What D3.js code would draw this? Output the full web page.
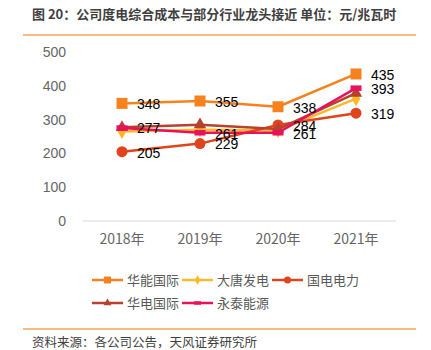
<!DOCTYPE html>
<html><head><meta charset="utf-8">
<script src="https://cdn.jsdelivr.net/npm/d3@7"></script>
<style>
body{margin:0;background:#fff;}
svg{display:block;font-family:"Liberation Sans","Noto Sans CJK SC",Arial,sans-serif;}
</style></head>
<body><svg id="c" width="431" height="350"></svg>
<script>
const categories = ["2018年","2019年","2020年","2021年"];
const seriesNames = ["华能国际","大唐发电","国电电力","华电国际","永泰能源"];
const huaneng = [348,355,338,435];
const datang = [265,270,268,362];
const guodian = [205,229,284,319];
const huadian = [277,285,272,378];
const yongtai = [275,261,261,393];
// which points carry a value label
const huanengLabels = [true,true,true,true];
const datangLabels = [false,false,false,false];
const guodianLabels = [true,true,true,true];
const huadianLabels = [true,false,false,false];
const yongtaiLabels = [false,true,true,true];
const yTicks = [0,100,200,300,400,500];
const title = "图 20：公司度电综合成本与部分行业龙头接近  单位：元/兆瓦时";
const source = "资料来源：各公司公告，天风证券研究所";

const series = [
  {name:seriesNames[0], values:huaneng, labels:huanengLabels, color:"#F5821F", shape:"square"},
  {name:seriesNames[1], values:datang, labels:datangLabels, color:"#FBB92A", shape:"diamond"},
  {name:seriesNames[2], values:guodian, labels:guodianLabels, color:"#E0441C", shape:"circle"},
  {name:seriesNames[3], values:huadian, labels:huadianLabels, color:"#B5422F", shape:"triangle"},
  {name:seriesNames[4], values:yongtai, labels:yongtaiLabels, color:"#E8115B", shape:"dash"}
];

const svg = d3.select("#c");
const cjk = '"Noto Sans CJK SC","Liberation Sans",sans-serif';

// title & rules
svg.append("text").attr("x",32).attr("y",19).attr("font-family",cjk)
  .attr("font-size",13).attr("font-weight","bold").attr("fill","#3f3f3f").text(title);
svg.append("line").attr("x1",23).attr("x2",416).attr("y1",35).attr("y2",35)
  .attr("stroke","#F3A35A").attr("stroke-width",1.5);
svg.append("line").attr("x1",23).attr("x2",416).attr("y1",329).attr("y2",329)
  .attr("stroke","#F3A35A").attr("stroke-width",1.5);
svg.append("text").attr("x",32).attr("y",347).attr("font-family",cjk)
  .attr("font-size",12.5).attr("fill","#404040").text(source);

const x = d3.scaleBand().domain(categories).range([83,395]);
const y = d3.scaleLinear().domain([0,500]).range([221,52]);

// baseline
svg.append("line").attr("x1",83).attr("x2",396).attr("y1",y(0)).attr("y2",y(0))
  .attr("stroke","#d9d9d9").attr("stroke-width",1);

// y axis labels
const yAxis = svg.append("g").attr("transform","translate(66,0)")
  .call(d3.axisLeft(y).tickValues(yTicks).tickSize(0).tickPadding(0));
yAxis.select(".domain").remove();
yAxis.selectAll("text").attr("font-size",14).attr("fill","#666")
  .attr("font-family",'"Liberation Sans",Arial,sans-serif');

// x axis labels
const xAxis = svg.append("g").attr("transform",`translate(0,${y(0)+13})`)
  .call(d3.axisBottom(x).tickSize(0).tickPadding(0));
xAxis.select(".domain").remove();
xAxis.selectAll("text").attr("font-size",14).attr("fill","#666").attr("font-family",cjk);

const cx = c => x(c) + x.bandwidth()/2;

function marker(g, shape, color, size){
  if(shape==="square"){
    g.append("rect").attr("x",-size/2).attr("y",-size/2).attr("width",size).attr("height",size).attr("fill",color);
  } else if(shape==="circle"){
    g.append("circle").attr("r",size/2).attr("fill",color);
  } else if(shape==="diamond"){
    g.append("path").attr("d",d3.symbol(d3.symbolDiamond, size*size*0.55)()).attr("fill",color);
  } else if(shape==="triangle"){
    g.append("path").attr("d",d3.symbol(d3.symbolTriangle, size*size*0.55)()).attr("fill",color);
  } else if(shape==="dash"){
    g.append("rect").attr("x",-size/2).attr("y",-size*0.25).attr("width",size).attr("height",size*0.5).attr("fill",color);
  }
}

const line = d3.line().x((d,i)=>cx(categories[i])).y(d=>y(d));

series.forEach(s=>{
  const g = svg.append("g");
  g.append("path").attr("d",line(s.values)).attr("fill","none")
    .attr("stroke",s.color).attr("stroke-width",2.5).attr("stroke-linejoin","round");
  s.values.forEach((v,i)=>{
    const m = g.append("g").attr("transform",`translate(${cx(categories[i])},${y(v)})`);
    marker(m, s.shape, s.color, 11);
  });
});

// value labels
series.forEach(s=>{
  s.values.forEach((v,i)=>{
    if(!s.labels[i]) return;
    svg.append("text").attr("x",cx(categories[i])+15).attr("y",y(v)+1)
      .attr("dy","0.35em").attr("font-size",14).attr("fill","#000")
      .attr("font-family",'"Liberation Sans",Arial,sans-serif').text(v);
  });
});

// legend
const legendPos = [[92,280],[182,280],[272,280],[92,303],[182,303]];
series.forEach((s,i)=>{
  const [lx,ly] = legendPos[i];
  const g = svg.append("g").attr("transform",`translate(${lx},${ly})`);
  g.append("line").attr("x1",0).attr("x2",31).attr("y1",0).attr("y2",0)
    .attr("stroke",s.color).attr("stroke-width",2.5);
  const m = g.append("g").attr("transform","translate(15.5,0)");
  marker(m, s.shape, s.color, 7);
  g.append("text").attr("x",35).attr("y",0).attr("dy","0.35em")
    .attr("font-size",13).attr("fill","#595959").attr("font-family",cjk).text(s.name);
});
</script></body></html>
